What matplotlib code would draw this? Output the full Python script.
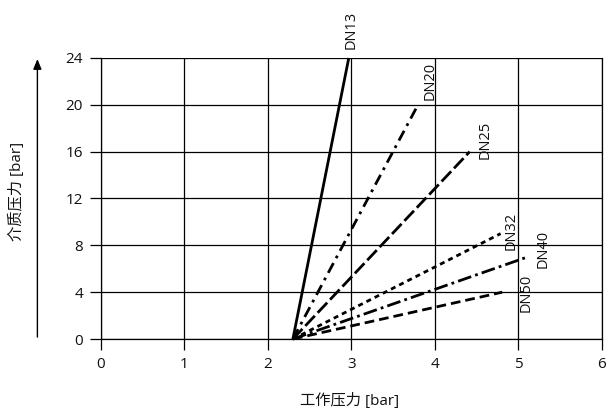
import matplotlib
matplotlib.use("Agg")
import matplotlib.pyplot as plt

plt.rcParams['font.family'] = ['Open Sans', 'Noto Sans CJK SC', 'DejaVu Sans']

# Dados
nomes = ["DN13", "DN20", "DN25", "DN32", "DN40", "DN50"]
x_inicio = 2.3
x_fim = [2.97, 3.80, 4.42, 4.79, 5.11, 4.81]
y_fim = [24, 20, 16, 9, 7, 4]
estilos = [
    "-",
    (0, (4, 2, 1, 2)),
    (0, (5, 1.5)),
    (0, (1.8, 1.5)),
    (0, (5, 1.5, 1, 1.5)),
    (0, (3.5, 1.8)),
]
# posição dos rótulos (x, y) em unidades do gráfico
rot_x = [3.0, 3.95, 4.6, 4.92, 5.3, 5.1]
rot_y = [24.8, 20.4, 15.4, 7.6, 6.1, 2.3]

xticks = [0, 1, 2, 3, 4, 5, 6]
yticks = [0, 4, 8, 12, 16, 20, 24]

fig = plt.figure(figsize=(6.13, 4.17), dpi=100)
ax = fig.add_axes([0.1648, 0.187, 0.8165, 0.674])

for nome, xf, yf, ls in zip(nomes, x_fim, y_fim, estilos):
    ax.plot([x_inicio, xf], [0, yf], color="black", lw=2, linestyle=ls,
            solid_capstyle="butt", dash_capstyle="butt", clip_on=False)

for nome, rx, ry in zip(nomes, rot_x, rot_y):
    ax.text(rx, ry, nome, rotation=90, fontsize=10.5, ha="center", va="bottom",
            color="#111111")

ax.set_xlim(0, 6)
ax.set_ylim(0, 24)
ax.set_xticks(xticks)
ax.set_yticks(yticks)
ax.grid(True, color="black", lw=0.9)
ax.set_axisbelow(True)
for s in ax.spines.values():
    s.set_linewidth(0.9)
ax.spines["top"].set_visible(False)
ax.tick_params(axis="both", length=8, width=0.9, labelsize=11, pad=5,
               labelcolor="#111111")

fig.text(0.571, 0.038, "工作压力 [bar]", ha="center", va="center", fontsize=11,
         color="#111111")
fig.text(0.027, 0.54, "介质压力 [bar]", ha="center", va="center",
         rotation=90, fontsize=11, color="#111111")
fig.add_artist(matplotlib.patches.FancyArrowPatch(
    (0.061, 0.185), (0.061, 0.865), transform=fig.transFigure,
    arrowstyle="-|>,head_length=6,head_width=2.5", color="black", lw=1))

fig.savefig("out.png", dpi=100)
